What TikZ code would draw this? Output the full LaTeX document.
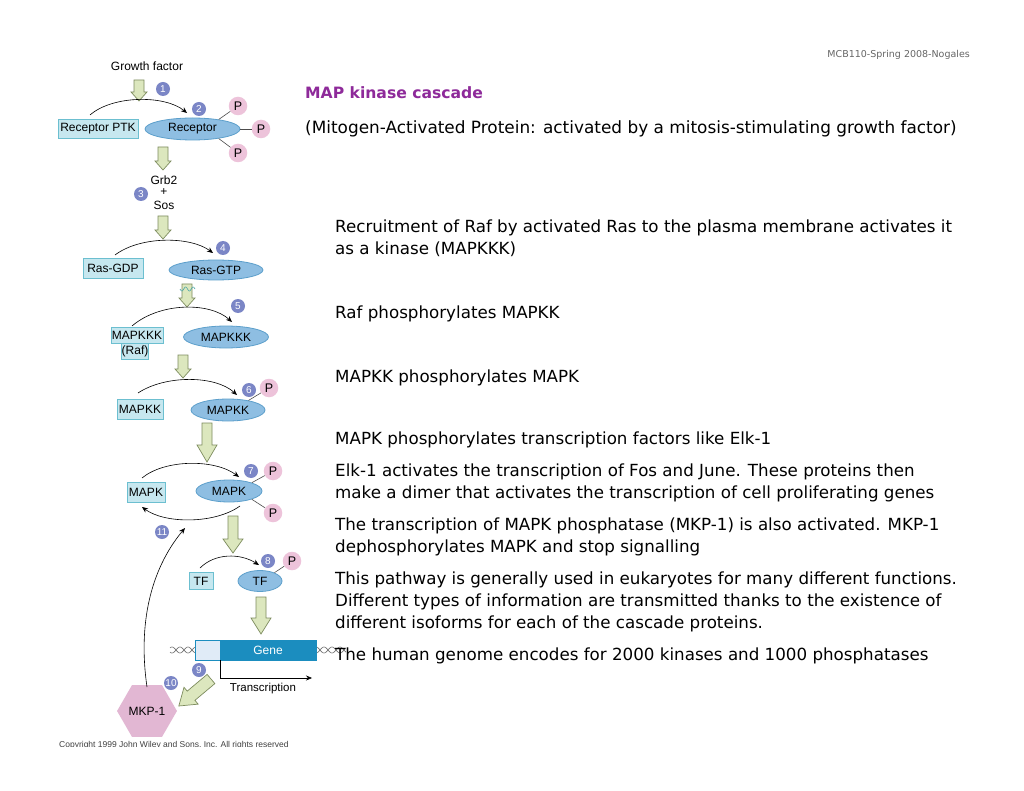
\documentclass[tikz,border=0pt]{standalone}
\usepackage{fontspec}
\setmainfont{DejaVu Sans}
\newfontfamily\lab{Liberation Sans}
\usetikzlibrary{shapes.geometric,arrows.meta}
\definecolor{boxf}{HTML}{C6E7EF}
\definecolor{boxb}{HTML}{6CBFD0}
\definecolor{ellf}{HTML}{8EBEE2}
\definecolor{ellb}{HTML}{5C9FCB}
\definecolor{garf}{HTML}{DCE7BE}
\definecolor{garb}{HTML}{7D8C5E}
\definecolor{numc}{HTML}{7B86C6}
\definecolor{pf}{HTML}{EDC3DA}
\definecolor{genec}{HTML}{1B8DBF}
\definecolor{genel}{HTML}{E0EBF7}
\definecolor{hexc}{HTML}{E2B7D3}
\definecolor{ttl}{HTML}{8E2A9A}
\definecolor{dna}{HTML}{707070}
\newcommand\GArrow[6]{% x, top, tip, shaft half, head half, head length
  \draw[garr] (#1-#4,#2) -- (#1+#4,#2) -- (#1+#4,#3-#6) -- (#1+#5,#3-#6) -- (#1,#3)
    -- (#1-#5,#3-#6) -- (#1-#4,#3-#6) -- cycle;}
\tikzset{
  pbox/.style={draw=boxb, fill=boxf, line width=0.8pt, inner sep=0pt, font=\lab\fontsize{12}{13}\selectfont},
  pell/.style={ellipse, draw=ellb, fill=ellf, line width=0.8pt, inner sep=0pt, font=\lab\fontsize{12}{13}\selectfont},
  num/.style={circle, fill=numc, text=white, inner sep=0pt, minimum size=14pt, font=\lab\fontsize{10}{10}\selectfont},
  phos/.style={circle, fill=pf, inner sep=0pt, minimum size=18.5pt, font=\lab\fontsize{12.5}{12}\selectfont},
  plink/.style={draw=black!70, line width=0.6pt},
  curv/.style={-{Stealth[length=6pt,width=5pt]}, line width=0.6pt},
  garr/.style={draw=garb, fill=garf, line width=0.7pt, line join=miter},
  lbl/.style={inner sep=0pt, font=\lab\fontsize{12}{13}\selectfont},
  rt/.style={anchor=base west, inner sep=0pt, font=\fontsize{16.7}{18}\selectfont},
}
\begin{document}
\begin{tikzpicture}[x=1pt,y=-1pt]
\useasboundingbox[fill=white] (0,0) rectangle (1024,791);

% header
\node[anchor=base east, inner sep=0pt, text=black!60, font=\fontsize{9.5}{10}\selectfont] (hdr) at (970,58) {MCB110-Spring 2008-Nogales};

% ---------- diagram ----------
\node[lbl] (gf) at (147,66) {Growth factor};
\GArrow{139}{80}{101}{5}{8}{9}
\node[num] (n1) at (163,89) {1};
\node[pbox, minimum width=80pt, minimum height=19pt] (rptk) at (98,129) {Receptor PTK};
\node[pell, minimum width=95pt, minimum height=22pt] (rec) at (192.5,129) {Receptor};
\node[num] (n2) at (199,109) {2};
\node[phos] (p1) at (238,106) {P};
\node[phos] (p2) at (261,129) {P};
\node[phos] (p3) at (238,153) {P};
\draw[plink] (rec.20) -- (p1);
\draw[plink] (rec.east) -- (p2);
\draw[plink] (rec.-20) -- (p3);
\coordinate (c1s) at (90,115);
\coordinate (c1e) at (187,113);
\draw[curv] (c1s) .. controls (113,95) and (165,95) .. (c1e);

\GArrow{163}{147}{170}{5}{8}{9}
\node[lbl] (grb) at (164,180) {Grb2};
\node[lbl] (plus) at (164,192.5) {+};
\node[lbl] (sos) at (164,205) {Sos};
\node[num] (n3) at (141,194) {3};
\GArrow{163}{216}{239}{5}{8}{9}

\node[pbox, minimum width=60pt, minimum height=20pt] (rgdp) at (113,268) {Ras-GDP};
\node[pell, minimum width=94pt, minimum height=20pt] (rgtp) at (216,270) {Ras-GTP};
\node[num] (n4) at (223,248) {4};
\coordinate (c2s) at (115,255);
\coordinate (c2e) at (213,253);
\draw[curv] (c2s) .. controls (140,236) and (190,236) .. (c2e);

\GArrow{187}{284}{307}{5}{8}{9}
\draw[teal!70, line width=0.6pt, domain=180:195, samples=30] plot (\x, {289+2*sin(\x*48)});
\node[num] (n5) at (238,306) {5};
\node[pbox, minimum width=52pt, minimum height=16pt] (mkkk) at (137,335) {MAPKKK};
\node[pbox, minimum width=26pt, minimum height=16pt, anchor=north] (raf) at (135,343) {(Raf)};
\node[pell, minimum width=85pt, minimum height=22pt] (mkkk2) at (226,337) {MAPKKK};
\coordinate (c3s) at (132,326);
\coordinate (c3e) at (232,322);
\draw[curv] (c3s) .. controls (160,302) and (210,302) .. (c3e);

\GArrow{183}{355}{378}{5}{8}{9}
\node[num] (n6) at (249,390) {6};
\node[phos] (p4) at (269,388) {P};
\node[pbox, minimum width=46pt, minimum height=20pt] (mkk) at (140,409) {MAPKK};
\node[pell, minimum width=74pt, minimum height=22pt] (mkk2) at (228,410) {MAPKK};
\draw[plink] (mkk2.25) -- (p4);
\coordinate (c4s) at (138,393);
\coordinate (c4e) at (237,395);
\draw[curv] (c4s) .. controls (165,375) and (215,375) .. (c4e);

\GArrow{207}{423}{462}{5}{10}{17}
\node[num] (n7) at (251,471) {7};
\node[phos] (p5) at (273,471) {P};
\node[phos] (p6) at (273,513) {P};
\node[pbox, minimum width=38pt, minimum height=20pt] (mk) at (146,492) {MAPK};
\node[pell, minimum width=66pt, minimum height=22pt] (mk2) at (229,491) {MAPK};
\draw[plink] (mk2.20) -- (p5);
\draw[plink] (mk2.-20) -- (p6);
\coordinate (c5s) at (142,478);
\coordinate (c5e) at (239,477);
\draw[curv] (c5s) .. controls (165,459) and (215,459) .. (c5e);
\coordinate (c6s) at (240,506);
\coordinate (c6e) at (142,507);
\draw[curv] (c6s) .. controls (215,524) and (165,524) .. (c6e);
\coordinate (ret) at (185,528);
\node[num] (n11) at (162,532) {11};

\GArrow{233}{516}{553}{5}{10}{14}
\node[num] (n8) at (268,561) {8};
\node[phos] (p7) at (292,561) {P};
\node[pbox, minimum width=24pt, minimum height=17pt] (tf) at (201,581) {TF};
\node[pell, minimum width=44pt, minimum height=21pt] (tf2) at (260,581) {TF};
\draw[plink] (tf2.30) -- (p7);
\coordinate (c7s) at (200,568);
\coordinate (c7e) at (259,565);
\draw[curv] (c7s) .. controls (215,553) and (240,553) .. (c7e);

\GArrow{261}{597}{634}{5}{10}{16}

% DNA
\draw[dna, line width=0.6pt, domain=170:195, samples=50] plot (\x, {650+3*sin(\x*22.5)});
\draw[dna, line width=0.6pt, domain=170:195, samples=50] plot (\x, {650-3*sin(\x*22.5)});
\draw[dna, line width=0.6pt, domain=316:346, samples=50] plot (\x, {650+3*sin(\x*22.5)});
\draw[dna, line width=0.6pt, domain=316:346, samples=50] plot (\x, {650-3*sin(\x*22.5)});
\node[draw=genec, fill=genel, line width=0.8pt, minimum width=25pt, minimum height=20pt, inner sep=0pt] (prom) at (207.5,650) {};
\node[draw=genec, fill=genec, line width=0.8pt, minimum width=96pt, minimum height=20pt, inner sep=0pt, text=white, font=\lab\fontsize{12}{13}\selectfont] (gene) at (268,650) {Gene};
\coordinate (tx) at (312,678);
\draw[-{Stealth[length=6pt,width=5pt]}, line width=0.6pt] (prom.south east) |- (tx);
\node[lbl, font=\lab\fontsize{11.5}{12}\selectfont] (trs) at (263,689) {Transcription};
\node[num] (n9) at (199,670) {9};
\node[num] (n10) at (171,683) {10};
\begin{scope}[shift={(211,679)}, rotate=-50]
\GArrow{0}{0}{42}{6}{11}{16}
\end{scope}
\node[regular polygon, regular polygon sides=6, fill=hexc, minimum size=50pt, inner sep=0pt, font=\lab\fontsize{12}{13}\selectfont] (mkp) at (147,711) {MKP-1};
\coordinate (mkt) at (147,687);
\draw[curv] (mkt) .. controls (138,625) and (150,570) .. (ret);

\begin{scope}
\clip (50,734) rectangle (300,746.5);
\node[anchor=base west, inner sep=0pt, text=black!75, font=\lab\fontsize{8.5}{9}\selectfont] (copy) at (59,747) {Copyright 1999 John Wiley and Sons, Inc. All rights reserved};
\end{scope}

% ---------- right text ----------
\node[rt, text=ttl, font=\bfseries\fontsize{15.6}{18}\selectfont] (t0) at (305,99) {MAP kinase cascade};
\node[rt, font=\fontsize{16.9}{18}\selectfont] (t1) at (305,134) {(Mitogen-Activated Protein: activated by a mitosis-stimulating growth factor)};
\node[rt] (t2) at (335,233) {Recruitment of Raf by activated Ras to the plasma membrane activates it};
\node[rt] (t3) at (335,255) {as a kinase (MAPKKK)};
\node[rt] (t4) at (335,318) {Raf phosphorylates MAPKK};
\node[rt] (t5) at (335,382) {MAPKK phosphorylates MAPK};
\node[rt] (t6) at (335,444) {MAPK phosphorylates transcription factors like Elk-1};
\node[rt] (t7) at (335,476) {Elk-1 activates the transcription of Fos and June. These proteins then};
\node[rt] (t8) at (335,498) {make a dimer that activates the transcription of cell proliferating genes};
\node[rt] (t9) at (335,530) {The transcription of MAPK phosphatase (MKP-1) is also activated. MKP-1};
\node[rt] (t10) at (335,552) {dephosphorylates MAPK and stop signalling};
\node[rt] (t11) at (335,584) {This pathway is generally used in eukaryotes for many different functions.};
\node[rt] (t12) at (335,606) {Different types of information are transmitted thanks to the existence of};
\node[rt] (t13) at (335,628) {different isoforms for each of the cascade proteins.};
\node[rt] (t14) at (335,660) {The human genome encodes for 2000 kinases and 1000 phosphatases};
\end{tikzpicture}
\end{document}
